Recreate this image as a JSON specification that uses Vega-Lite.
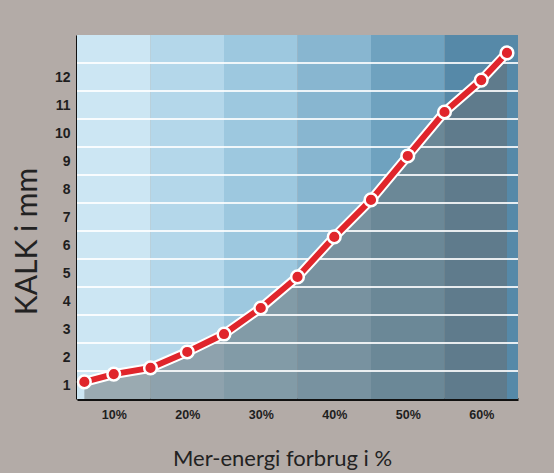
{
  "$schema": "https://vega.github.io/schema/vega-lite/v6.json",
  "autosize": "none",
  "width": 441,
  "height": 364,
  "padding": {"left": 77, "top": 35, "right": 36, "bottom": 74},
  "background": "#b3aba7",
  "config": {
    "view": {"stroke": null},
    "font": "Liberation Sans",
    "axisX": {
      "ticks": false, "grid": false, "labelOverlap": false,
      "domainColor": "#111111", "domainWidth": 3,
      "labelFont": "Liberation Sans", "labelFontWeight": "bold", "labelFontSize": 12.5,
      "labelColor": "#1e1e1e", "labelPadding": 9,
      "titleFont": "Lato", "titleFontSize": 22, "titleFontWeight": "normal",
      "titleColor": "#222222", "titlePadding": 28, "titleX": 205, "zindex": 1
    },
    "axisY": {
      "ticks": false, "grid": false, "labelOverlap": false,
      "domainColor": "#111111", "domainWidth": 3,
      "labelFont": "Liberation Sans", "labelFontWeight": "bold", "labelFontSize": 14,
      "labelColor": "#1e1e1e", "labelPadding": 7,
      "titleFont": "Lato", "titleFontSize": 30, "titleFontWeight": "normal",
      "titleColor": "#222222", "titlePadding": 12, "titleY": 206, "zindex": 1
    }
  },
  "datasets": {
    "bands": [
      {"x0": 5, "x1": 15, "band": "a"},
      {"x0": 15, "x1": 25, "band": "b"},
      {"x0": 25, "x1": 35, "band": "c"},
      {"x0": 35, "x1": 45, "band": "d"},
      {"x0": 45, "x1": 55, "band": "e"},
      {"x0": 55, "x1": 65, "band": "f"}
    ],
    "grid": [
      {"kalk": 1.5}, {"kalk": 2.5}, {"kalk": 3.5}, {"kalk": 4.5}, {"kalk": 5.5}, {"kalk": 6.5},
      {"kalk": 7.5}, {"kalk": 8.5}, {"kalk": 9.5}, {"kalk": 10.5}, {"kalk": 11.5}, {"kalk": 12.5}
    ],
    "kalk": [
      {"energi": 6, "kalk": 1.11},
      {"energi": 10, "kalk": 1.39},
      {"energi": 15, "kalk": 1.61},
      {"energi": 20, "kalk": 2.18},
      {"energi": 25, "kalk": 2.82},
      {"energi": 30, "kalk": 3.75},
      {"energi": 35, "kalk": 4.86},
      {"energi": 40, "kalk": 6.29},
      {"energi": 45, "kalk": 7.61},
      {"energi": 50, "kalk": 9.18},
      {"energi": 55, "kalk": 10.75},
      {"energi": 60, "kalk": 11.89},
      {"energi": 63.5, "kalk": 12.86}
    ]
  },
  "layer": [
    {
      "data": {"name": "bands"},
      "mark": {"type": "rect"},
      "encoding": {
        "x": {
          "field": "x0", "type": "quantitative", "title": "Mer-energi forbrug i %",
          "scale": {"domain": [5, 65], "nice": false, "zero": false},
          "axis": {"values": [10, 20, 30, 40, 50, 60], "labelExpr": "datum.value + '%'"}
        },
        "x2": {"field": "x1"},
        "color": {
          "field": "band", "type": "nominal", "legend": null,
          "scale": {"range": ["#cce6f3", "#b4d7ea", "#9dc8df", "#88b6d0", "#6fa2bf", "#5689a8"]}
        }
      }
    },
    {
      "data": {"name": "kalk"},
      "mark": {"type": "area", "color": "#686d70", "opacity": 0.5},
      "encoding": {
        "x": {"field": "energi", "type": "quantitative", "title": "Mer-energi forbrug i %",
          "axis": {"values": [10, 20, 30, 40, 50, 60], "labelExpr": "datum.value + '%'"}},
        "y": {
          "field": "kalk", "type": "quantitative", "title": "KALK i mm",
          "scale": {"domain": [0.5, 13.5], "nice": false, "zero": false},
          "axis": {"values": [1, 2, 3, 4, 5, 6, 7, 8, 9, 10, 11, 12]}
        },
        "y2": {"datum": 0.5}
      }
    },
    {
      "data": {"name": "grid"},
      "mark": {"type": "rule", "color": "#ffffff", "strokeWidth": 2, "opacity": 0.85},
      "encoding": {"y": {"field": "kalk", "type": "quantitative", "title": "KALK i mm",
        "axis": {"values": [1, 2, 3, 4, 5, 6, 7, 8, 9, 10, 11, 12]}}}
    },
    {
      "data": {"name": "kalk"},
      "mark": {"type": "line", "color": "#ffffff", "strokeWidth": 10},
      "encoding": {
        "x": {"field": "energi", "type": "quantitative", "title": "Mer-energi forbrug i %",
          "axis": {"values": [10, 20, 30, 40, 50, 60], "labelExpr": "datum.value + '%'"}},
        "y": {"field": "kalk", "type": "quantitative", "title": "KALK i mm",
          "axis": {"values": [1, 2, 3, 4, 5, 6, 7, 8, 9, 10, 11, 12]}}
      }
    },
    {
      "data": {"name": "kalk"},
      "mark": {"type": "line", "color": "#e0252b", "strokeWidth": 6},
      "encoding": {
        "x": {"field": "energi", "type": "quantitative", "title": "Mer-energi forbrug i %",
          "axis": {"values": [10, 20, 30, 40, 50, 60], "labelExpr": "datum.value + '%'"}},
        "y": {"field": "kalk", "type": "quantitative", "title": "KALK i mm",
          "axis": {"values": [1, 2, 3, 4, 5, 6, 7, 8, 9, 10, 11, 12]}}
      }
    },
    {
      "data": {"name": "kalk"},
      "mark": {"type": "circle", "fill": "#e0252b", "opacity": 1, "stroke": "#ffffff", "strokeWidth": 2.5, "size": 160},
      "encoding": {
        "x": {"field": "energi", "type": "quantitative", "title": "Mer-energi forbrug i %",
          "axis": {"values": [10, 20, 30, 40, 50, 60], "labelExpr": "datum.value + '%'"}},
        "y": {"field": "kalk", "type": "quantitative", "title": "KALK i mm",
          "axis": {"values": [1, 2, 3, 4, 5, 6, 7, 8, 9, 10, 11, 12]}}
      }
    }
  ]
}
